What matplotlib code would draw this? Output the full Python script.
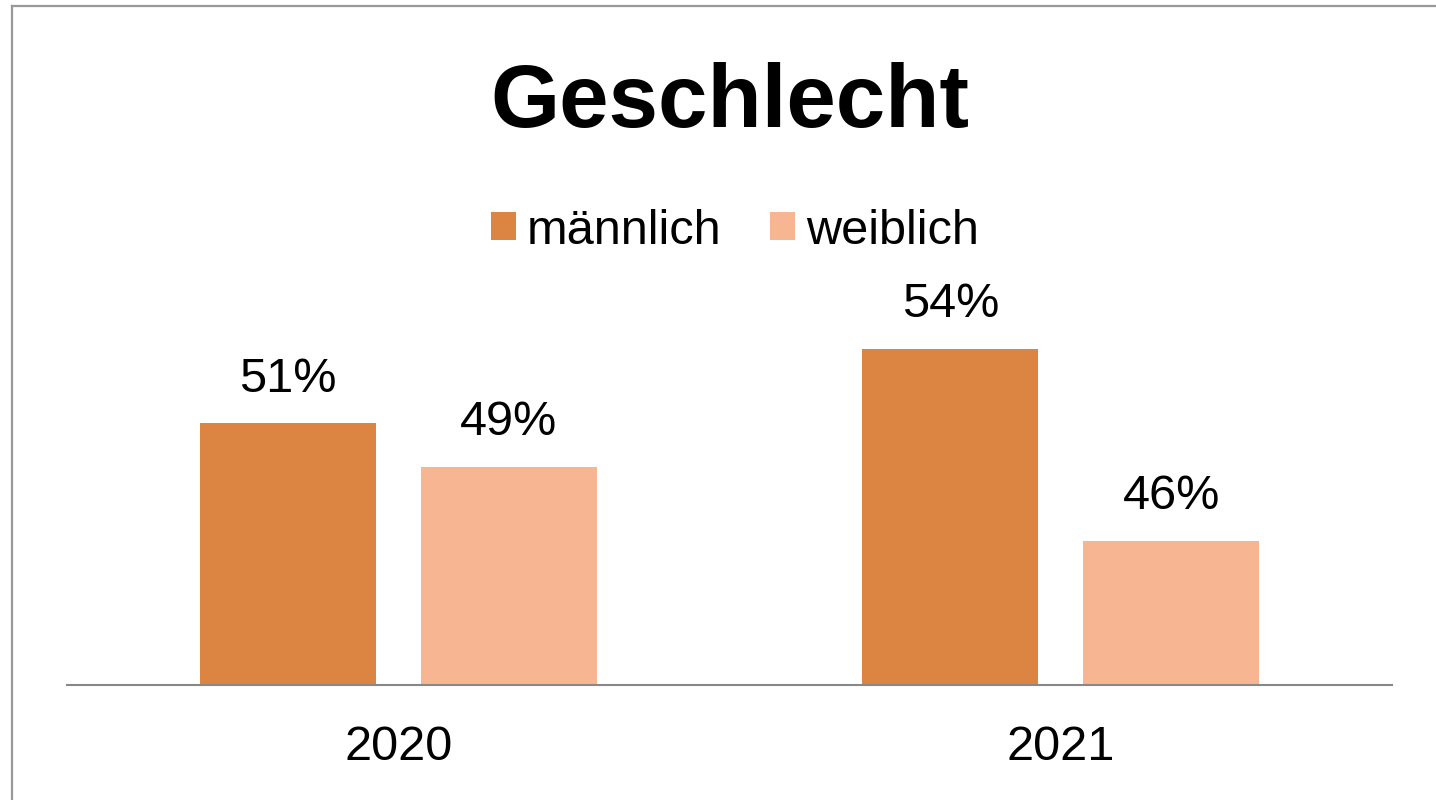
import matplotlib
matplotlib.use("Agg")
import matplotlib.pyplot as plt
from matplotlib.patches import Patch
from matplotlib.lines import Line2D
import numpy as np

plt.rcParams['font.family'] = ['Liberation Sans', 'DejaVu Sans']

title = "Geschlecht"
categories = ["2020", "2021"]
series_names = ["männlich", "weiblich"]
maennlich = [50.9, 54.0]
weiblich = [49.1, 46.0]
colors = ["#DC8441", "#F8B592"]

W, H = 1436, 800
fig = plt.figure(figsize=(W / 100, H / 100), dpi=100)
fig.patch.set_facecolor("white")

ax_left, ax_right = 67, 1392
ax_bottom, ax_top = 685, 205
ax = fig.add_axes([ax_left / W, 1 - ax_bottom / H, (ax_right - ax_left) / W, (ax_bottom - ax_top) / H])

x = np.arange(len(categories))
bw = 176 / 662.5
off = (176 + 45) / 2 / 662.5
series = [maennlich, weiblich]
for i, (vals, col, name) in enumerate(zip(series, colors, series_names)):
    pos = x + (-off if i == 0 else off)
    ax.bar(pos, vals, width=bw, color=col, label=name, zorder=2)
    for xp, v in zip(pos, vals):
        ax.annotate(f"{v:.0f}%", (xp, v), xytext=(0, 22.7), textcoords="offset points",
                    ha="center", va="baseline", fontsize=35, color="black")

ax.set_xlim(-0.5, 1.5)
ax.set_ylim(40, 60)
ax.set_xticks(x)
ax.set_xticklabels(categories, fontsize=35)
ax.tick_params(axis="x", length=0, pad=29)
ax.set_yticks([])
for s in ["top", "right", "left"]:
    ax.spines[s].set_visible(False)
ax.spines["bottom"].set_color("#888888")
ax.spines["bottom"].set_linewidth(1.5)
ax.spines["bottom"].set_zorder(3)

fig.text((ax_left + ax_right) / 2 / W, 1 - 127 / H, title, ha="center", va="baseline",
         fontsize=64, fontweight="bold", color="black")

handles = [Patch(facecolor=c, edgecolor="none") for c in colors]
fig.legend(handles, series_names, loc="center", bbox_to_anchor=(735 / W, 1 - 231 / H),
           ncol=2, frameon=False, fontsize=35, handlelength=0.514, handleheight=0.514,
           handletextpad=0.226, columnspacing=0.99, borderpad=0, borderaxespad=0)

# chart frame (left and top edges visible)
fig.add_artist(Line2D([12 / W, 12 / W], [0, 1 - 6 / H], transform=fig.transFigure, color="#999999", lw=1.6))
fig.add_artist(Line2D([12 / W, 1], [1 - 6 / H, 1 - 6 / H], transform=fig.transFigure, color="#999999", lw=1.6))

fig.savefig("out.png", dpi=100, facecolor="white")
